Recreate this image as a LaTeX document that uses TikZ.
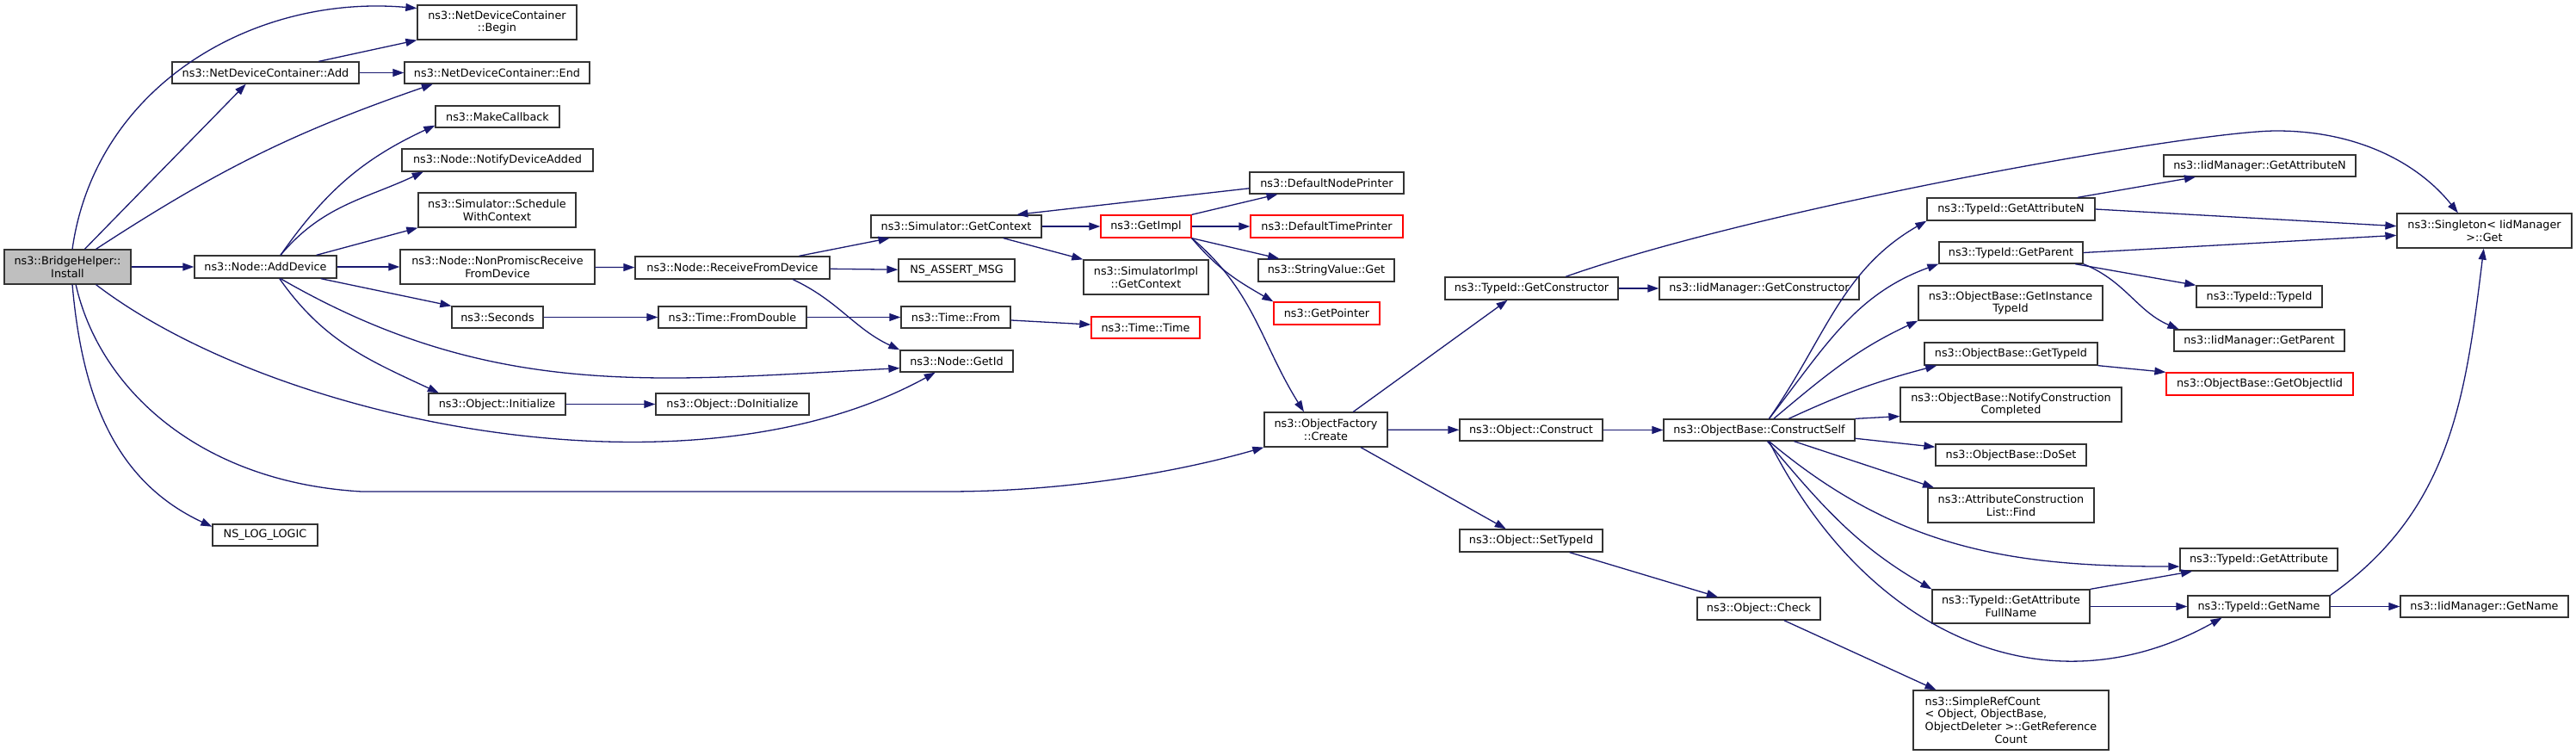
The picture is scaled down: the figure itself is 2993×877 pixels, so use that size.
\documentclass[tikz,border=0pt]{standalone}
\usepackage{fontspec}
\setmainfont{DejaVu Sans}
\usetikzlibrary{arrows.meta}
\definecolor{edgeblue}{HTML}{191970}
\newlength{\rcw}
\AtBeginDocument{\settowidth{\rcw}{\fontsize{12.8}{14.7}\selectfont ObjectDeleter >::GetReference}}
\tikzset{
	fn/.style={draw=black!80, line width=1.3pt, rectangle, inner sep=0pt, align=center, font=\fontsize{12.8}{14.7}\selectfont},
	bad/.style={draw=red},
	sz/.style 2 args={minimum width=#1pt, minimum height=#2pt},
	call/.style={draw=edgeblue, line width=1.3pt, -{Triangle[length=13pt,width=9pt]}}
}
\begin{document}
\begin{tikzpicture}[x=1pt,y=1pt]
		\useasboundingbox (0,0) rectangle (2993,-877);
		\node[fn, sz={147}{40}, fill=black!25] (install) at (78.5,-310) {ns3::BridgeHelper::\\Install};
		\node[fn, sz={185}{40}] (begin) at (577.5,-26) {ns3::NetDeviceContainer\\::Begin};
		\node[fn, sz={217}{25}] (add) at (308.5,-84.5) {ns3::NetDeviceContainer::Add};
		\node[fn, sz={215}{25}] (endc) at (577.5,-84.5) {ns3::NetDeviceContainer::End};
		\node[fn, sz={144}{25}] (makecb) at (578,-135.5) {ns3::MakeCallback};
		\node[fn, sz={222}{26}] (notify) at (578,-186) {ns3::Node::NotifyDeviceAdded};
		\node[fn, sz={183}{40}] (sched) at (577.5,-244) {ns3::Simulator::Schedule\\WithContext};
		\node[fn, sz={165}{26}] (adddev) at (308.5,-310) {ns3::Node::AddDevice};
		\node[fn, sz={226}{40}] (nonprom) at (578,-310) {ns3::Node::NonPromiscReceive\\FromDevice};
		\node[fn, sz={106}{25}] (seconds) at (578,-368.5) {ns3::Seconds};
		\node[fn, sz={159}{25}] (init) at (577.5,-469.5) {ns3::Object::Initialize};
		\node[fn, sz={122}{25}] (loglogic) at (308,-621.5) {NS\_LOG\_LOGIC};
		\node[fn, sz={226}{26}] (recv) at (851,-311) {ns3::Node::ReceiveFromDevice};
		\node[fn, sz={198}{26}] (getctx) at (1111,-263) {ns3::Simulator::GetContext};
		\node[fn, sz={135}{26}] (assert) at (1111.5,-314) {NS\_ASSERT\_MSG};
		\node[fn, sz={172}{25}] (fromdbl) at (851,-368.5) {ns3::Time::FromDouble};
		\node[fn, sz={127}{25}] (timefrom) at (1110.5,-368.5) {ns3::Time::From};
		\node[fn, sz={131}{25}] (getid) at (1111.5,-419.5) {ns3::Node::GetId};
		\node[fn, sz={178}{25}] (doinit) at (851,-469.5) {ns3::Object::DoInitialize};
		\node[fn, bad, sz={105}{26}] (getimpl) at (1331.5,-263) {ns3::GetImpl};
		\node[fn, sz={145}{40}] (simimpl) at (1331.5,-322) {ns3::SimulatorImpl\\::GetContext};
		\node[fn, bad, sz={126}{25}] (timetime) at (1331,-380.5) {ns3::Time::Time};
		\node[fn, sz={179}{25}] (nodeprt) at (1541.5,-212.5) {ns3::DefaultNodePrinter};
		\node[fn, bad, sz={177}{26}] (timeprt) at (1541.5,-263) {ns3::DefaultTimePrinter};
		\node[fn, sz={158}{26}] (strget) at (1541,-314) {ns3::StringValue::Get};
		\node[fn, bad, sz={123}{26}] (getptr) at (1541.5,-364) {ns3::GetPointer};
		\node[fn, sz={143}{40}] (create) at (1540.5,-499) {ns3::ObjectFactory\\::Create};
		\node[fn, sz={201}{26}] (getctor) at (1779.5,-335) {ns3::TypeId::GetConstructor};
		\node[fn, sz={166}{25}] (construct) at (1779,-499.5) {ns3::Object::Construct};
		\node[fn, sz={166}{26}] (settype) at (1779,-628) {ns3::Object::SetTypeId};
		\node[fn, sz={232}{26}] (iidctor) at (2044,-335) {ns3::IidManager::GetConstructor};
		\node[fn, sz={222}{25}] (cself) at (2044,-499.5) {ns3::ObjectBase::ConstructSelf};
		\node[fn, sz={143}{26}] (check) at (2043.5,-707) {ns3::Object::Check};
		\node[fn, sz={195}{26}] (attrn) at (2336.5,-243) {ns3::TypeId::GetAttributeN};
		\node[fn, sz={167}{25}] (parent) at (2336.5,-293.5) {ns3::TypeId::GetParent};
		\node[fn, sz={214}{40}] (insttid) at (2336,-352) {ns3::ObjectBase::GetInstance\\TypeId};
		\node[fn, sz={201}{26}] (gettid) at (2336.5,-411) {ns3::ObjectBase::GetTypeId};
		\node[fn, sz={257}{40}] (notifyc) at (2336.5,-470) {ns3::ObjectBase::NotifyConstruction\\Completed};
		\node[fn, sz={175}{25}] (doset) at (2336.5,-528.5) {ns3::ObjectBase::DoSet};
		\node[fn, sz={193}{40}] (find) at (2336.5,-587) {ns3::AttributeConstruction\\List::Find};
		\node[fn, sz={183}{39}] (fullname) at (2336.5,-704.5) {ns3::TypeId::GetAttribute\\FullName};
		\node[fn, sz={227}{69}] (refcnt) at (2336.5,-836.5) {\makebox[\rcw][l]{ns3::SimpleRefCount}\\\makebox[\rcw][l]{< Object, ObjectBase,}\\ObjectDeleter >::GetReference\\Count};
		\node[fn, sz={223}{25}] (iidattrn) at (2625.5,-192.5) {ns3::IidManager::GetAttributeN};
		\node[fn, sz={146}{25}] (tidtid) at (2625,-344.5) {ns3::TypeId::TypeId};
		\node[fn, sz={198}{25}] (iidparent) at (2625,-395.5) {ns3::IidManager::GetParent};
		\node[fn, bad, sz={217}{26}] (objiid) at (2625.5,-446) {ns3::ObjectBase::GetObjectIid};
		\node[fn, sz={183}{26}] (getattr) at (2624.5,-650) {ns3::TypeId::GetAttribute};
		\node[fn, sz={165}{25}] (getname) at (2624.5,-704.5) {ns3::TypeId::GetName};
		\node[fn, sz={203}{40}] (single) at (2886.5,-268) {ns3::Singleton< IidManager\\ >::Get};
		\node[fn, sz={195}{25}] (iidname) at (2886.5,-704.5) {ns3::IidManager::GetName};

		\draw[call] (install.75) to[out=82,in=175] (begin.170);
		\draw[call] (install.46) -- (add.210);
		\draw[call] (install.32) to[bend left=7] (endc.190);
		\draw[call] (install) -- (adddev);
		\draw[call] (install.-32) .. controls (320,-490) and (800,-590) .. (getid.208);
		\draw[call] (install.-65) .. controls (115,-450) and (230,-560) .. (420,-571) -- (1100,-571) .. controls (1250,-571) and (1380,-545) .. (create.south west);
		\draw[call] (install.-75) to[out=-85,in=155] (loglogic.171);
		\draw[call] (add.12) -- (begin.south west);
		\draw[call] (add) -- (endc);
		\draw[call] (adddev.38) to[out=55,in=205] (makecb.188);
		\draw[call] (adddev.38) to[out=50,in=205] (notify.189);
		\draw[call] (adddev.13) -- (sched.south west);
		\draw[call] (adddev) -- (nonprom);
		\draw[call] (adddev.-12) -- (seconds.north west);
		\draw[call] (adddev.-38) to[out=-30,in=183] (getid.187);
		\draw[call] (adddev.-40) to[out=-55,in=155] (init.169);
		\draw[call] (nonprom) -- (recv);
		\draw[call] (seconds) -- (fromdbl);
		\draw[call] (fromdbl) -- (timefrom);
		\draw[call] (timefrom) -- (timetime);
		\draw[call] (init) -- (doinit);
		\draw[call] (recv.10) -- (getctx.190);
		\draw[call] (recv) -- (assert);
		\draw[call] (recv.-11) to[out=-25,in=155] (getid.north west);
		\draw[call] (getctx) -- (getimpl);
		\draw[call] (getctx.-14) -- (simimpl.north west);
		\draw[call] (nodeprt.184) -- (getctx.11);
		\draw[call] (getimpl.north east) -- (nodeprt.193);
		\draw[call] (getimpl) -- (timeprt);
		\draw[call] (getimpl.south east) -- (strget.166);
		\draw[call] (getimpl.south east) to[out=-50,in=150] (getptr.north west);
		\draw[call] (getimpl.south east) to[out=-40,in=122] (create.141);
		\draw[call] (create.33) -- (getctor.206);
		\draw[call] (create) -- (construct);
		\draw[call] (create.-27) -- (settype.155);
		\draw[call] (getctor) -- (iidctor);
		\draw[call] (getctor.19) .. controls (2050,-240) and (2550,-152) .. (2645,-152) .. controls (2740,-152) and (2810,-190) .. (single.146);
		\draw[call] (construct) -- (cself);
		\draw[call] (settype.-17) -- (check.164);
		\draw[call] (check.-25) -- (refcnt.158);
		\draw[call] (cself.49) to[out=55,in=210] (attrn.south west);
		\draw[call] (cself.49) to[out=52,in=200] (parent.south west);
		\draw[call] (cself.38) to[out=40,in=205] (insttid.south west);
		\draw[call] (cself.21) to[bend left=5] (gettid.189);
		\draw[call] (cself.north east) -- (notifyc.186);
		\draw[call] (cself.-5) -- (doset.174);
		\draw[call] (cself.-18) -- (find.167);
		\draw[call] (cself.-49) to[out=-40,in=180] (getattr.185);
		\draw[call] (cself.-54) to[out=-50,in=150] (fullname.north west);
		\draw[call] (cself.-49) .. controls (2170,-740) and (2380,-830) .. (getname.197);
		\draw[call] (attrn.10) -- (iidattrn.190);
		\draw[call] (attrn.east) -- (single.177);
		\draw[call] (parent.east) -- (single.183);
		\draw[call] (parent.-10) -- (tidtid.north west);
		\draw[call] (parent.south east) to[out=-22,in=157] (iidparent.172);
		\draw[call] (gettid.south east) -- (objiid.north west);
		\draw[call] (fullname.north east) -- (getattr.190);
		\draw[call] (fullname) -- (getname);
		\draw[call] (getname) -- (iidname);
		\draw[call] (getname.north east) to[out=35,in=263] (single.-92);
\end{tikzpicture}
\end{document}
